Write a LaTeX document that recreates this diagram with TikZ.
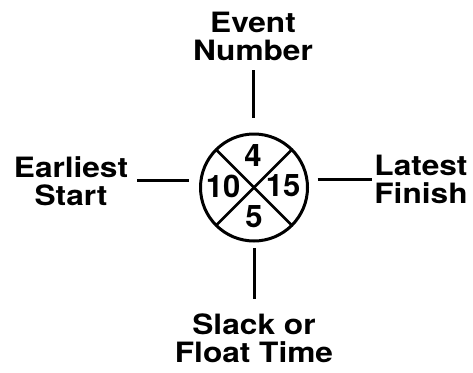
\documentclass[tikz,border=0pt]{standalone}
\usepackage{fontspec}
\setmainfont{TeX Gyre Heros}
\newfontfamily\lblfont[FakeStretch=1.13]{TeX Gyre Heros}
\usetikzlibrary{positioning,calc}

\begin{document}
\begin{tikzpicture}[
  x=1pt, y=-1pt,
  lbl/.style={align=center, inner sep=0pt, anchor=base, font=\lblfont\bfseries\fontsize{28}{27.5}\selectfont},
  num/.style={inner sep=0pt, font=\bfseries\fontsize{31}{31}\selectfont},
  event/.style={draw, circle, line width=3pt, minimum size=107pt, inner sep=0pt, outer sep=0pt},
  cross/.style={line width=2.5pt},
  link/.style={line width=3pt},
]
\useasboundingbox (0,0) rectangle (473,372);
% ---- event circle ----
\node[event] (evt) at (254,187.5) {};
\draw[cross] (evt.45) -- (evt.225);
\draw[cross] (evt.135) -- (evt.315);
% ---- numbers in the quarters ----
\node[num] (nevt)   at ($(evt)+(-1,-31.5)$) {4};
\node[num] (nearly) at ($(evt)+(-31,-1.5)$) {10};
\node[num] (nlate)  at ($(evt)+(29,-1.5)$)  {15};
\node[num] (nslack) at ($(evt)+(0,29)$)     {5};
% ---- labels ----
\node[lbl] (evname) at (253,60)  {Event\\Number};
\node[lbl] (estart) at (71,205)  {Earliest\\Start};
\node[lbl] (lfin)   at (421,203) {Latest\\Finish};
\node[lbl] (slack)  at (254,362) {Slack or\\Float Time};
% ---- connectors ----
\draw[link, shorten <=10pt, shorten >=16pt] (evname.south) -- (evname.south |- evt.north);
\draw[link, shorten <=9pt, shorten >=12pt] (estart.east) -- (estart.east -| evt.west);
\draw[link, shorten <=10pt, shorten >=2pt] (lfin.west -| evt.east) -- (lfin.west);
\draw[link, shorten <=7pt, shorten >=15pt] (evt.south) -- (evt.south |- slack.north);
\end{tikzpicture}
\end{document}
